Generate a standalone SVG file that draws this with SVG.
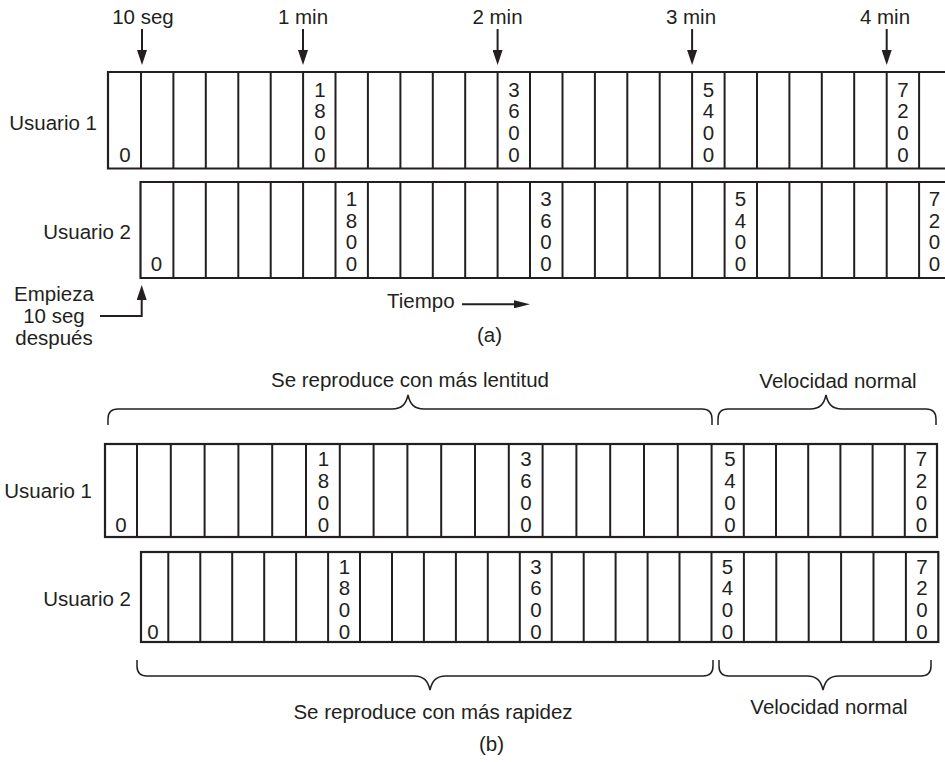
<svg xmlns="http://www.w3.org/2000/svg" width="945" height="762" viewBox="0 0 945 762">
<style>
text{font-family:"Liberation Sans",Arial,sans-serif;font-size:20.5px;fill:#231f20}
.m{text-anchor:middle}
.e{text-anchor:end}
.border{fill:none;stroke:#231f20;stroke-width:2.2}
.div{fill:none;stroke:#231f20;stroke-width:2}
.conn{fill:none;stroke:#231f20;stroke-width:2}
.brace{fill:none;stroke:#231f20;stroke-width:1.5}
</style>
<defs>
<marker id="ah" markerUnits="userSpaceOnUse" markerWidth="15" markerHeight="10" refX="0" refY="5" orient="auto">
<path d="M0,0 L15,5 L0,10 z" fill="#231f20"/>
</marker>
<marker id="ah2" markerUnits="userSpaceOnUse" markerWidth="16" markerHeight="8" refX="0" refY="4" orient="auto">
<path d="M0,0 L16,4 L0,8 z" fill="#231f20"/>
</marker>
</defs>
<rect width="945" height="762" fill="#ffffff"/>

<!-- (a) labels -->
<g id="a-time-labels">
<text class="m" x="143" y="24">10 seg</text>
<text class="m" x="303" y="24">1 min</text>
<text class="m" x="497.5" y="24">2 min</text>
<text class="m" x="691" y="24">3 min</text>
<text class="m" x="885" y="24">4 min</text>
</g>

<g id="a-usuario1">
<text class="e" x="97" y="130">Usuario 1</text>
<path class="border" d="M945,72 H108 V168.5 H945"/>
<path class="div" d="M141,72V168.5M173.4,72V168.5M205.8,72V168.5M238.3,72V168.5M270.7,72V168.5M303.1,72V168.5M335.5,72V168.5M367.9,72V168.5M400.4,72V168.5M432.8,72V168.5M465.2,72V168.5M497.6,72V168.5M530,72V168.5M562.5,72V168.5M594.9,72V168.5M627.3,72V168.5M659.7,72V168.5M692.1,72V168.5M724.6,72V168.5M757,72V168.5M789.4,72V168.5M821.8,72V168.5M854.2,72V168.5M886.7,72V168.5M919.1,72V168.5"/>
<text class="m" x="125" y="161.6">0</text>
<text class="m" x="320" y="96.5">1</text><text class="m" x="320" y="118.2">8</text><text class="m" x="320" y="139.9">0</text><text class="m" x="320" y="161.6">0</text>
<text class="m" x="514" y="96.5">3</text><text class="m" x="514" y="118.2">6</text><text class="m" x="514" y="139.9">0</text><text class="m" x="514" y="161.6">0</text>
<text class="m" x="708.5" y="96.5">5</text><text class="m" x="708.5" y="118.2">4</text><text class="m" x="708.5" y="139.9">0</text><text class="m" x="708.5" y="161.6">0</text>
<text class="m" x="903" y="96.5">7</text><text class="m" x="903" y="118.2">2</text><text class="m" x="903" y="139.9">0</text><text class="m" x="903" y="161.6">0</text>
</g>

<g id="a-usuario2">
<text class="e" x="131" y="239">Usuario 2</text>
<path class="border" d="M945,182 H140.5 V278 H945"/>
<path class="div" d="M173.4,182V278M205.8,182V278M238.3,182V278M270.7,182V278M303.1,182V278M335.5,182V278M367.9,182V278M400.4,182V278M432.8,182V278M465.2,182V278M497.6,182V278M530,182V278M562.5,182V278M594.9,182V278M627.3,182V278M659.7,182V278M692.1,182V278M724.6,182V278M757,182V278M789.4,182V278M821.8,182V278M854.2,182V278M886.7,182V278M919.1,182V278"/>
<text class="m" x="156.5" y="270.8">0</text>
<text class="m" x="351.5" y="206">1</text><text class="m" x="351.5" y="227.6">8</text><text class="m" x="351.5" y="249.2">0</text><text class="m" x="351.5" y="270.8">0</text>
<text class="m" x="546" y="206">3</text><text class="m" x="546" y="227.6">6</text><text class="m" x="546" y="249.2">0</text><text class="m" x="546" y="270.8">0</text>
<text class="m" x="740.5" y="206">5</text><text class="m" x="740.5" y="227.6">4</text><text class="m" x="740.5" y="249.2">0</text><text class="m" x="740.5" y="270.8">0</text>
<text class="m" x="934.5" y="206">7</text><text class="m" x="934.5" y="227.6">2</text><text class="m" x="934.5" y="249.2">0</text><text class="m" x="934.5" y="270.8">0</text>
</g>

<g id="a-notes">
<text class="m" x="54" y="300.5">Empieza</text>
<text class="m" x="54" y="322.5">10 seg</text>
<text class="m" x="54" y="344.5">después</text>
<text x="387" y="308">Tiempo</text>
<text class="m" x="489.5" y="342">(a)</text>
</g>

<g id="connectors">
<line class="conn" x1="142" y1="29" x2="142" y2="50" marker-end="url(#ah)"/>
<line class="conn" x1="303" y1="29" x2="303" y2="50" marker-end="url(#ah)"/>
<line class="conn" x1="497.6" y1="29" x2="497.6" y2="50" marker-end="url(#ah)"/>
<line class="conn" x1="692.1" y1="29" x2="692.1" y2="50" marker-end="url(#ah)"/>
<line class="conn" x1="886.7" y1="29" x2="886.7" y2="50" marker-end="url(#ah)"/>
<polyline class="conn" points="100,316 141.7,316 141.7,300" marker-end="url(#ah)"/>
<line class="conn" x1="462" y1="304.3" x2="514" y2="304.3" marker-end="url(#ah2)"/>
</g>

<!-- (b) -->
<g id="b-braces-top">
<text class="m" x="410" y="387">Se reproduce con más lentitud</text>
<text class="m" x="838" y="387.5">Velocidad normal</text>
<path class="brace" d="M108,425 V419 Q108,409 118,409 H392 C402,409 406,404 408,395 C410,404 414,409 424,409 H702 Q712,409 712,419 V425"/>
<path class="brace" d="M718,425 V419 Q718,409 728,409 H810 C820,409 824,404 826,395 C828,404 832,409 842,409 H926 Q936,409 936,419 V425"/>
</g>

<g id="b-usuario1">
<text class="e" x="92" y="498">Usuario 1</text>
<rect class="border" x="105" y="444" width="832" height="93"/>
<path class="div" d="M137,444V537M170.8,444V537M204.6,444V537M238.4,444V537M272.2,444V537M306,444V537M339.8,444V537M373.6,444V537M407.4,444V537M441.2,444V537M475,444V537M508.8,444V537M542.6,444V537M576.4,444V537M610.2,444V537M644,444V537M677.8,444V537M711.6,444V537M743.8,444V537M776,444V537M808.2,444V537M840.4,444V537M872.6,444V537M904.8,444V537"/>
<text class="m" x="121" y="531.5">0</text>
<text class="m" x="323.5" y="466">1</text><text class="m" x="323.5" y="488">8</text><text class="m" x="323.5" y="510">0</text><text class="m" x="323.5" y="531.5">0</text>
<text class="m" x="526" y="466">3</text><text class="m" x="526" y="488">6</text><text class="m" x="526" y="510">0</text><text class="m" x="526" y="531.5">0</text>
<text class="m" x="730" y="466">5</text><text class="m" x="730" y="488">4</text><text class="m" x="730" y="510">0</text><text class="m" x="730" y="531.5">0</text>
<text class="m" x="921.5" y="466">7</text><text class="m" x="921.5" y="488">2</text><text class="m" x="921.5" y="510">0</text><text class="m" x="921.5" y="531.5">0</text>
</g>

<g id="b-usuario2">
<text class="e" x="131" y="606">Usuario 2</text>
<rect class="border" x="141" y="552" width="797.3" height="90"/>
<path class="div" d="M168.3,552V642M200.3,552V642M232.2,552V642M264.2,552V642M296.1,552V642M328.1,552V642M360,552V642M392,552V642M423.9,552V642M455.9,552V642M487.8,552V642M519.8,552V642M551.7,552V642M583.7,552V642M615.6,552V642M647.6,552V642M679.5,552V642M711.5,552V642M743.9,552V642M776.3,552V642M808.7,552V642M841.1,552V642M873.5,552V642M905.9,552V642"/>
<text class="m" x="153" y="639">0</text>
<text class="m" x="344.5" y="573.5">1</text><text class="m" x="344.5" y="595.3">8</text><text class="m" x="344.5" y="617.2">0</text><text class="m" x="344.5" y="639">0</text>
<text class="m" x="536" y="573.5">3</text><text class="m" x="536" y="595.3">6</text><text class="m" x="536" y="617.2">0</text><text class="m" x="536" y="639">0</text>
<text class="m" x="727.5" y="573.5">5</text><text class="m" x="727.5" y="595.3">4</text><text class="m" x="727.5" y="617.2">0</text><text class="m" x="727.5" y="639">0</text>
<text class="m" x="922" y="573.5">7</text><text class="m" x="922" y="595.3">2</text><text class="m" x="922" y="617.2">0</text><text class="m" x="922" y="639">0</text>
</g>

<g id="b-braces-bottom">
<path class="brace" d="M137,660 V666 Q137,676 147,676 H414 C424,676 428,681 430,690 C432,681 436,676 446,676 H703 Q713,676 713,666 V660"/>
<path class="brace" d="M719,660 V666 Q719,676 729,676 H807 C817,676 821,681 823,690 C825,681 829,676 839,676 H921 Q931,676 931,666 V660"/>
<text class="m" x="433" y="719.3">Se reproduce con más rapidez</text>
<text class="m" x="829" y="714">Velocidad normal</text>
<text class="m" x="491.5" y="751">(b)</text>
</g>
</svg>
